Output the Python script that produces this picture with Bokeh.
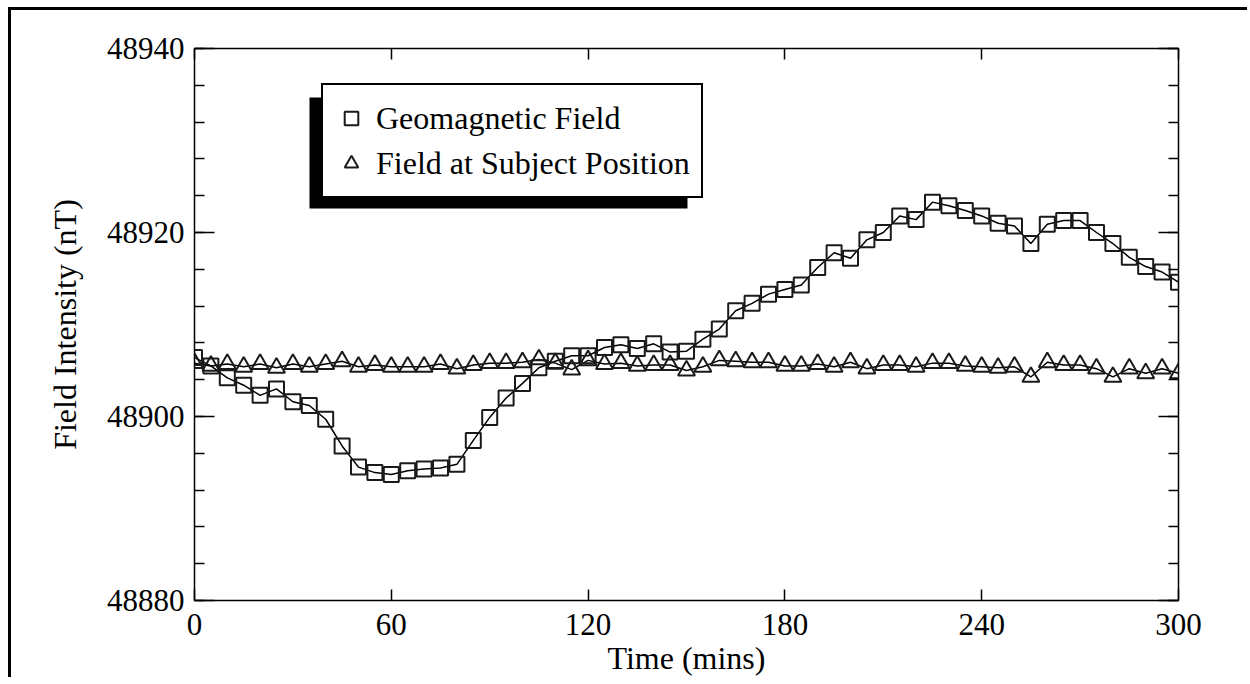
from bokeh.plotting import figure
from bokeh.models import (LinearAxis, SingleIntervalTicker, Legend, LegendItem,
                          BoxAnnotation, Range1d, ColumnDataSource, GlobalInlineStyleSheet)
from bokeh.embed import file_html
from bokeh.resources import INLINE

# ---------------- data ----------------
time_min = [0, 5, 10, 15, 20, 25, 30, 35, 40, 45, 50, 55, 60, 65, 70, 75, 80, 85, 90, 95,
            100, 105, 110, 115, 120, 125, 130, 135, 140, 145, 150, 155, 160, 165, 170, 175,
            180, 185, 190, 195, 200, 205, 210, 215, 220, 225, 230, 235, 240, 245, 250, 255,
            260, 265, 270, 275, 280, 285, 290, 295, 300]

geomagnetic_field = [48906.4, 48905.5, 48904.2, 48903.4, 48902.3, 48903.0, 48901.6, 48901.2,
                     48899.7, 48896.8, 48894.5, 48893.9, 48893.7, 48894.1, 48894.3, 48894.4,
                     48894.8, 48897.4, 48899.9, 48902.0, 48903.6, 48905.3, 48906.0, 48906.6,
                     48906.6, 48907.5, 48907.8, 48907.4, 48907.9, 48907.0, 48907.1, 48908.4,
                     48909.5, 48911.5, 48912.3, 48913.3, 48913.8, 48914.3, 48916.2, 48917.8,
                     48917.2, 48919.2, 48920.0, 48921.8, 48921.4, 48923.3, 48922.9, 48922.4,
                     48921.8, 48921.0, 48920.7, 48918.8, 48920.9, 48921.3, 48921.3, 48920.0,
                     48918.8, 48917.3, 48916.3, 48915.7, 48914.6]

subject_field = [48905.8, 48905.5, 48905.7, 48905.4, 48905.7, 48905.3, 48905.7, 48905.4,
                 48905.7, 48906.0, 48905.4, 48905.6, 48905.4, 48905.4, 48905.4, 48905.7,
                 48905.2, 48905.6, 48905.8, 48905.8, 48905.9, 48906.2, 48905.8, 48905.1,
                 48906.1, 48905.7, 48905.8, 48905.5, 48905.6, 48905.6, 48905.0, 48905.4,
                 48906.1, 48906.0, 48905.9, 48905.9, 48905.5, 48905.5, 48905.7, 48905.4,
                 48905.9, 48905.2, 48905.6, 48905.6, 48905.4, 48905.8, 48905.8, 48905.5,
                 48905.4, 48905.3, 48905.4, 48904.3, 48905.9, 48905.6, 48905.6, 48905.2,
                 48904.3, 48905.2, 48904.7, 48905.2, 48904.7]

series_labels = ["Geomagnetic Field", "Field at Subject Position"]
x_limits = (0, 300)
y_limits = (48880, 48940)
x_tick_step = 60
y_tick_step = 20
y_minor_per_major = 4

# ---------------- layout / style ----------------
FONT = "Liberation Serif"
FRAME_W, FRAME_H = 984, 552
ML, MT, MR, MB = 183, 38, 72, 80

src = ColumnDataSource(dict(t=time_min, geo=geomagnetic_field, sub=subject_field))

p = figure(width=ML + FRAME_W + MR, height=MT + FRAME_H + MB,
           x_range=Range1d(*x_limits), y_range=Range1d(*y_limits),
           output_backend="svg", toolbar_location=None,
           min_border_left=ML, min_border_top=MT, min_border_right=MR, min_border_bottom=MB,
           x_axis_label="Time (mins)", y_axis_label="Field Intensity (nT)",
           styles={"border-top": "3px solid black", "border-left": "3px solid black",
                   "margin-top": "7px", "margin-left": "8px"})
p.stylesheets = [GlobalInlineStyleSheet(css="html, body { overflow: hidden; }")]

p.grid.visible = False
p.background_fill_color = "white"
p.border_fill_color = "white"
p.outline_line_color = "black"
p.outline_line_width = 1.5

xt = SingleIntervalTicker(interval=x_tick_step, num_minor_ticks=0)
yt = SingleIntervalTicker(interval=y_tick_step, num_minor_ticks=y_minor_per_major + 1)

def style_x(ax, labels=True):
    ax.ticker = xt
    ax.axis_line_color = None
    ax.major_tick_in = 11
    ax.major_tick_out = 0
    ax.minor_tick_in = 0
    ax.minor_tick_out = 0
    ax.major_tick_line_color = "black"
    ax.major_tick_line_width = 1.5
    ax.major_label_text_font = FONT
    ax.major_label_text_color = "black" if labels else None
    ax.major_label_text_font_size = "31px" if labels else "0px"
    ax.major_label_standoff = 13 if labels else 0

def style_y(ax, labels=True):
    ax.ticker = yt
    ax.axis_line_color = None
    ax.major_tick_in = 20
    ax.major_tick_out = 0
    ax.minor_tick_in = 10
    ax.minor_tick_out = 0
    ax.major_tick_line_color = "black"
    ax.major_tick_line_width = 1.5
    ax.minor_tick_line_color = "black"
    ax.minor_tick_line_width = 1.5
    ax.major_label_text_font = FONT
    ax.major_label_text_color = "black" if labels else None
    ax.major_label_text_font_size = "31px" if labels else "0px"
    ax.major_label_standoff = 10 if labels else 0

for ax in p.xaxis:
    style_x(ax)
    ax.axis_label_text_font = FONT
    ax.axis_label_text_font_size = "32px"
    ax.axis_label_text_font_style = "normal"
    ax.axis_label_text_color = "black"
    ax.axis_label_standoff = 2
for ax in p.yaxis:
    style_y(ax)
    ax.axis_label_text_font = FONT
    ax.axis_label_text_font_size = "32px"
    ax.axis_label_text_font_style = "normal"
    ax.axis_label_text_color = "black"
    ax.axis_label_standoff = 21

top_ax = LinearAxis()
style_x(top_ax, labels=False)
p.add_layout(top_ax, "above")
right_ax = LinearAxis()
style_y(right_ax, labels=False)
p.add_layout(right_ax, "right")

# ---------------- series ----------------
p.line("t", "geo", source=src, line_color="black", line_width=1.5)
p.line("t", "sub", source=src, line_color="black", line_width=1.5)
r_geo = p.scatter("t", "geo", source=src, marker="square", size=15,
                  fill_color=None, line_color="#1a1a1a", line_width=2)
r_sub = p.scatter("t", "sub", source=src, marker="triangle", size=17,
                  fill_color=None, line_color="#1a1a1a", line_width=2)

# ---------------- legend with drop shadow ----------------
LEG_X, LEG_Y = 127, 402          # px from frame left / bottom
LEG_W, LEG_H = 378, 111
SH_DX, SH_DY = -12, -10          # shadow offset, px
sx = (x_limits[1] - x_limits[0]) / FRAME_W
sy = (y_limits[1] - y_limits[0]) / FRAME_H
shadow = BoxAnnotation(left=x_limits[0] + (LEG_X + SH_DX) * sx,
                       right=x_limits[0] + (LEG_X + SH_DX + LEG_W) * sx,
                       bottom=y_limits[0] + (LEG_Y + SH_DY) * sy,
                       top=y_limits[0] + (LEG_Y + SH_DY + LEG_H) * sy,
                       fill_color="black", fill_alpha=1.0, line_color=None, level="overlay")
p.add_layout(shadow)

legend = Legend(items=[LegendItem(label=series_labels[0], renderers=[r_geo]),
                       LegendItem(label=series_labels[1], renderers=[r_sub])],
                location=(LEG_X, LEG_Y), margin=0, padding=11, spacing=1,
                glyph_width=34, glyph_height=44, label_height=44, label_standoff=8,
                label_text_font=FONT, label_text_font_size="32px", label_text_color="black",
                border_line_color="black", border_line_width=2, border_line_alpha=1.0,
                background_fill_color="white", background_fill_alpha=1.0)
p.add_layout(legend, "center")

open("out.html", "w").write(file_html(p, INLINE))
